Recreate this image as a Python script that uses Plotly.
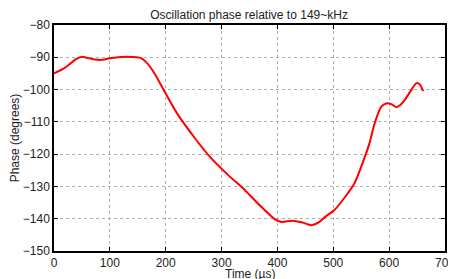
import plotly.graph_objects as go

time_us = [0, 20, 40, 50, 60, 70, 85, 100, 120, 140, 155, 165, 180, 196, 220, 252, 280, 312,
           341, 371, 395, 407, 428, 445, 461, 475, 485, 502, 520, 538, 553, 565, 574, 586,
           595, 605, 613, 620, 628, 640, 649, 655, 661]
phase_deg = [-95, -93.2, -90.5, -89.8, -90.2, -90.6, -90.8, -90.3, -89.9, -89.9, -90.2, -91.5,
             -95, -100, -107.3, -115, -121, -126.5, -131, -136.3, -140.1, -141, -140.6, -141.2,
             -142, -141, -139.5, -137.3, -133.5, -129, -122.5, -116.5, -110.5, -105.3, -104.3,
             -104.6, -105.5, -104.8, -103.2, -100, -98, -98.4, -100.5]

x_ticks = [0, 100, 200, 300, 400, 500, 600, 700]
y_ticks = [-150, -140, -130, -120, -110, -100, -90, -80]

fig = go.Figure()
fig.add_trace(go.Scatter(x=time_us, y=phase_deg, mode="lines",
                         line=dict(color="#ff0000", width=2, shape="spline", smoothing=0.8),
                         showlegend=False))

font = dict(family="Liberation Sans, Arial, sans-serif", size=12, color="#222")
axis_common = dict(showline=True, linecolor="black", linewidth=1.5, mirror="ticks",
                   ticks="inside", ticklen=4, tickcolor="black",
                   showgrid=True, gridcolor="#b0b0b0", griddash="dot", gridwidth=1,
                   zeroline=False, tickfont=font, automargin=False,
                   ticklabeloverflow="allow")
fig.update_xaxes(range=[0, 700], tickvals=x_ticks, ticktext=[str(v) for v in x_ticks],
                 **axis_common)
fig.update_yaxes(range=[-150, -80], tickvals=y_ticks,
                 ticktext=["\u2212" + str(abs(v)) for v in y_ticks],
                 title=dict(text="Phase (degrees)", font=font, standoff=8), **axis_common)

fig.add_annotation(text="Time (µs)", xref="paper", yref="paper", x=0.5, y=0,
                   xanchor="center", yanchor="middle", yshift=-23, showarrow=False,
                   font=font)

# The page body has an 8px margin, so the figure is sized and offset to compensate.
fig.update_layout(
    width=448, height=271,
    margin=dict(l=46, r=11, t=17, b=28),
    paper_bgcolor="white", plot_bgcolor="white",
    title=dict(text="Oscillation phase relative to 149~kHz",
               font=dict(family="Liberation Sans, Arial, sans-serif", size=12, color="#222"),
               x=0.538, xanchor="center", y=0.976, yanchor="middle"),
    font=font,
)
fig.write_html("out.html")
